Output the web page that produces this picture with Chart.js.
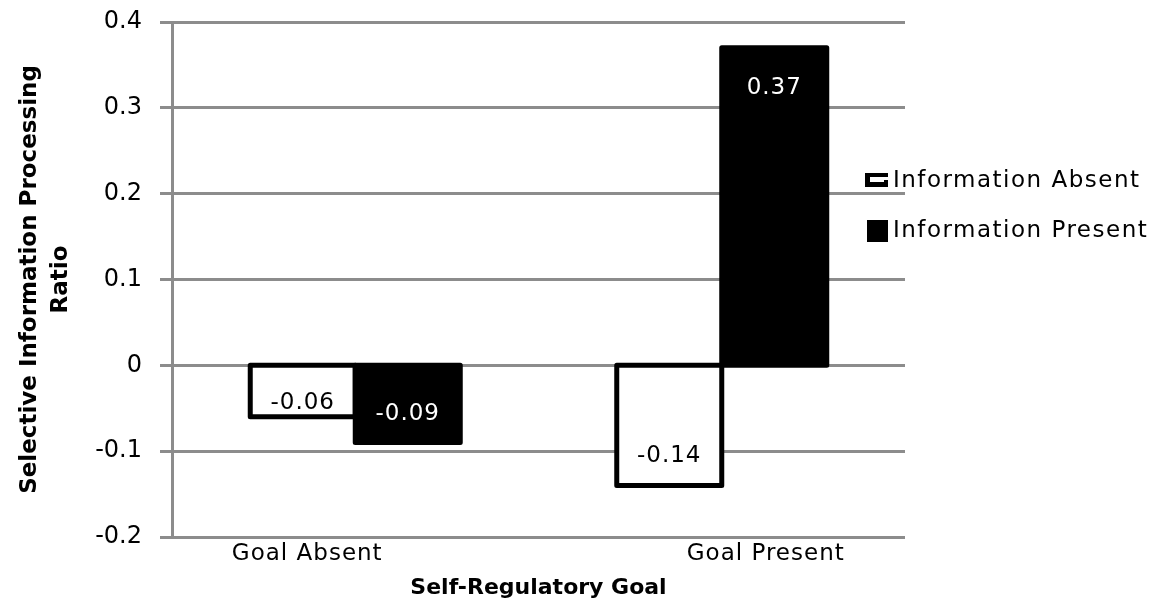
<!DOCTYPE html>
<html>
<head>
<meta charset="utf-8">
<script src="https://cdn.jsdelivr.net/npm/chart.js@4.4.1/dist/chart.umd.min.js"></script>
<style>
  html, body { margin: 0; padding: 0; background: #ffffff; }
  #wrap { position: relative; width: 1158px; height: 607px; }
</style>
</head>
<body>
<div id="wrap"><canvas id="c" width="1158" height="607"></canvas></div>
<script>
// ---- data ----
const categories = ['Goal Absent', 'Goal Present'];
const seriesNames = ['Information Absent', 'Information Present'];
const informationAbsent = [-0.06, -0.14];
const informationPresent = [-0.09, 0.37];
const yTicksMin = -0.2;
const yTicksMax = 0.4;
const yTickStep = 0.1;
const xTitle = 'Self-Regulatory Goal';
const yTitle = ['Selective Information Processing', 'Ratio'];

// ---- styles ----
const FONT = "'DejaVu Sans', sans-serif";
const GRID = '#8c8c8c';
const xLabelShift = [-48, 44];
const OUTLINE = 5;

// centred bar outlines (Excel style) + value labels
const barDecor = {
  id: 'barDecor',
  afterDatasetsDraw(chart) {
    const ctx = chart.ctx;
    ctx.save();
    ctx.strokeStyle = '#000';
    ctx.lineWidth = OUTLINE;
    ctx.lineJoin = 'round';
    chart.data.datasets.forEach((ds, di) => {
      const meta = chart.getDatasetMeta(di);
      meta.data.forEach((el) => {
        const l = el.x - el.width / 2;
        const t = Math.min(el.y, el.base);
        const h = Math.abs(el.base - el.y);
        ctx.strokeRect(l, t, el.width, h);
      });
    });
    ctx.font = '23px ' + FONT;
    if ('letterSpacing' in ctx) ctx.letterSpacing = '1px';
    ctx.textAlign = 'center';
    ctx.textBaseline = 'middle';
    chart.data.datasets.forEach((ds, di) => {
      const meta = chart.getDatasetMeta(di);
      meta.data.forEach((el, i) => {
        const v = ds.data[i];
        const len = Math.abs(el.base - el.y);
        let y;
        if (v >= 0) {
          y = el.y + 40;
        } else {
          const off = Math.max(0, Math.min(29, len - 38));
          y = el.y - off;
        }
        ctx.fillStyle = ds.labelColor;
        ctx.fillText(v.toFixed(2), el.x, y);
      });
    });
    ctx.restore();
  }
};

const xLabels = {
  id: 'xLabels',
  afterDraw(chart) {
    const ctx = chart.ctx;
    const xs = chart.scales.x;
    ctx.save();
    ctx.font = '23px ' + FONT;
    if ('letterSpacing' in ctx) ctx.letterSpacing = '1px';
    ctx.textAlign = 'center';
    ctx.textBaseline = 'middle';
    ctx.fillStyle = '#000';
    categories.forEach((c, i) => {
      ctx.fillText(c, xs.getPixelForValue(i) + xLabelShift[i], chart.chartArea.bottom + 17);
    });
    ctx.restore();
  }
};

const legendPlugin = {
  id: 'customLegend',
  afterDraw(chart) {
    const ctx = chart.ctx;
    ctx.save();
    ctx.fillStyle = '#000';
    // Information Absent icon (open box, Excel-style clipped)
    ctx.fillRect(865, 173, 23, 4);
    ctx.fillRect(865, 173, 5, 14);
    ctx.fillRect(865, 182, 23, 5);
    ctx.fillRect(884, 180, 4, 7);
    // Information Present icon
    ctx.fillRect(867, 220, 21, 22);
    ctx.font = '23px ' + FONT;
    if ('letterSpacing' in ctx) ctx.letterSpacing = '1.5px';
    ctx.textAlign = 'left';
    ctx.textBaseline = 'middle';
    ctx.fillText(seriesNames[0], 893, 181);
    ctx.fillText(seriesNames[1], 893, 231);
    ctx.restore();
  }
};

new Chart(document.getElementById('c'), {
  type: 'bar',
  data: {
    labels: categories,
    datasets: [
      {
        label: seriesNames[0],
        data: informationAbsent,
        backgroundColor: '#ffffff',
        borderWidth: 0,
        labelColor: '#000000',
        categoryPercentage: 0.573,
        barPercentage: 1.0
      },
      {
        label: seriesNames[1],
        data: informationPresent,
        backgroundColor: '#000000',
        borderWidth: 0,
        labelColor: '#ffffff',
        categoryPercentage: 0.573,
        barPercentage: 1.0
      }
    ]
  },
  options: {
    responsive: false,
    animation: false,
    devicePixelRatio: 1,
    layout: { padding: { top: 22, right: 253, left: 0, bottom: 0 } },
    plugins: {
      legend: { display: false },
      tooltip: { enabled: false }
    },
    scales: {
      x: {
        grid: { display: false },
        border: { display: false },
        ticks: { display: false },
        title: {
          display: true,
          text: xTitle,
          color: '#000',
          font: { family: FONT, size: 22, weight: 'bold', lineHeight: 1.2 },
          padding: { top: 0, bottom: 6 }
        },
        afterFit(scale) { scale.height = 70; }
      },
      y: {
        min: yTicksMin,
        max: yTicksMax,
        ticks: {
          stepSize: yTickStep,
          color: '#000',
          padding: 18,
          font: { family: FONT, size: 24 },
          callback: (v) => String(Math.round(v * 10) / 10)
        },
        grid: {
          color: GRID,
          lineWidth: 3,
          tickLength: 12,
          drawTicks: true
        },
        border: { display: true, color: GRID, width: 3 },
        title: {
          display: true,
          text: yTitle,
          color: '#000',
          font: { family: FONT, size: 23, weight: 'bold', lineHeight: 1.36 },
          padding: { top: 14, bottom: 0 }
        },
        afterFit(scale) {
          scale.width = 172;
          scale.paddingTop = 0;
          scale.paddingBottom = 0;
        }
      }
    }
  },
  plugins: [barDecor, xLabels, legendPlugin]
});
</script>
</body>
</html>
